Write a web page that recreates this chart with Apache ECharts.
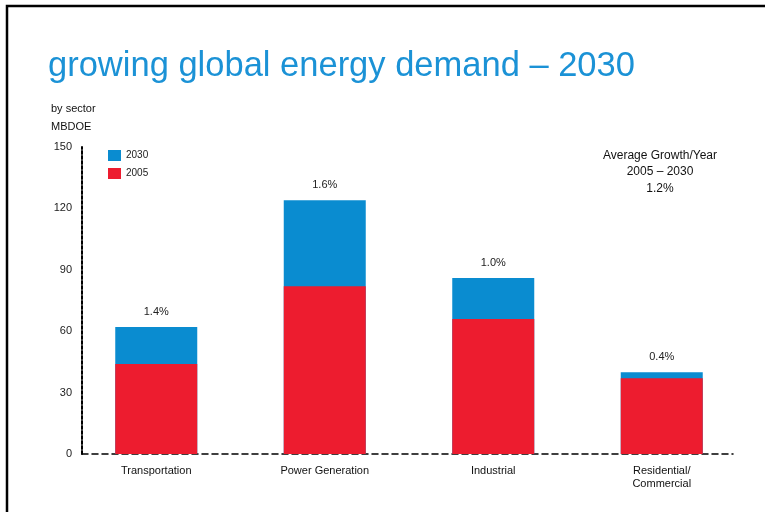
<!DOCTYPE html>
<html>
<head>
<meta charset="utf-8">
<script src="https://cdn.jsdelivr.net/npm/echarts@6/dist/echarts.min.js"></script>
<style>
  html, body { margin: 0; padding: 0; background: #fff; }
  #chart { width: 765px; height: 512px; }
</style>
</head>
<body>
<div id="chart"></div>
<script>
// Energy demand by sector, million barrels per day of oil equivalent
const sectors = ['Transportation', 'Power Generation', 'Industrial', 'Residential/\nCommercial'];
const demand2005 = [44, 82, 66, 37];
const demand2030 = [62, 124, 86, 40];
const growthLabels = ['1.4%', '1.6%', '1.0%', '0.4%'];
const yTicks = { min: 0, max: 150, interval: 30 };

const BLUE = '#0a8cd0';
const RED = '#ed1c2f';
const FONT = 'Liberation Sans, Arial, sans-serif';

const chart = echarts.init(document.getElementById('chart'));

chart.setOption({
  backgroundColor: '#ffffff',
  animation: false,
  textStyle: { fontFamily: FONT },
  title: [
    {
      text: 'growing global energy demand \u2013 2030',
      left: 43, top: 44,
      textStyle: { fontFamily: FONT, fontSize: 34.5, fontWeight: 'normal', color: '#1b92d6' }
    },
    {
      text: 'by sector\nMBDOE',
      left: 46, top: 95,
      textStyle: { fontFamily: FONT, fontSize: 11, fontWeight: 'normal', color: '#111', lineHeight: 18 }
    },
    {
      text: 'Average Growth/Year\n2005 \u2013 2030\n1.2%',
      left: 655, top: 142, textAlign: 'center',
      textStyle: { fontFamily: FONT, fontSize: 12, fontWeight: 'normal', color: '#111', lineHeight: 16.5, align: 'center' }
    }
  ],
  legend: {
    data: ['2030', '2005'],
    orient: 'vertical',
    left: 103, top: 145,
    icon: 'rect',
    itemWidth: 13, itemHeight: 11, itemGap: 7,
    textStyle: { fontFamily: FONT, fontSize: 10, color: '#222' }
  },
  grid: [
    // bars and category labels
    { left: 72, right: 19, top: 147, bottom: 58 },
    // dashed axis frame
    { left: 82, right: 32, top: 147, bottom: 58 }
  ],
  xAxis: [
    {
      gridIndex: 0, type: 'category', data: sectors,
      axisLine: { show: false }, axisTick: { show: false },
      axisLabel: { margin: 10, fontFamily: FONT, fontSize: 11, color: '#111', lineHeight: 13 }
    },
    {
      gridIndex: 1, type: 'category', data: sectors,
      axisLine: { show: true, lineStyle: { color: '#000', width: 1.5, type: [6, 4] } },
      axisTick: { show: false }, axisLabel: { show: false }
    }
  ],
  yAxis: [
    {
      gridIndex: 0, type: 'value', min: yTicks.min, max: yTicks.max, interval: yTicks.interval,
      show: false, splitLine: { show: false }
    },
    {
      gridIndex: 1, type: 'value', min: yTicks.min, max: yTicks.max, interval: yTicks.interval,
      axisLine: { show: true, lineStyle: { color: '#000', width: 2, type: [3, 2] } },
      axisTick: { show: false },
      splitLine: { show: false },
      axisLabel: { margin: 10, fontFamily: FONT, fontSize: 11, color: '#222' }
    }
  ],
  series: [
    {
      name: '2030', type: 'bar',
      xAxisIndex: 0, yAxisIndex: 0,
      data: demand2030,
      barWidth: 82,
      itemStyle: { color: BLUE },
      label: {
        show: true, position: 'top', distance: 10,
        fontFamily: FONT, fontSize: 11, color: '#222',
        formatter: p => growthLabels[p.dataIndex]
      },
      z: 2
    },
    {
      name: '2005', type: 'bar',
      xAxisIndex: 0, yAxisIndex: 0,
      data: demand2005,
      barWidth: 82,
      barGap: '-100%',
      itemStyle: { color: RED },
      z: 3
    }
  ],
  graphic: [
    {
      type: 'rect', silent: true,
      shape: { x: 7, y: 6, width: 800, height: 600 },
      style: { fill: 'none', stroke: '#000', lineWidth: 2.5 }
    }
  ]
});
</script>
</body>
</html>
